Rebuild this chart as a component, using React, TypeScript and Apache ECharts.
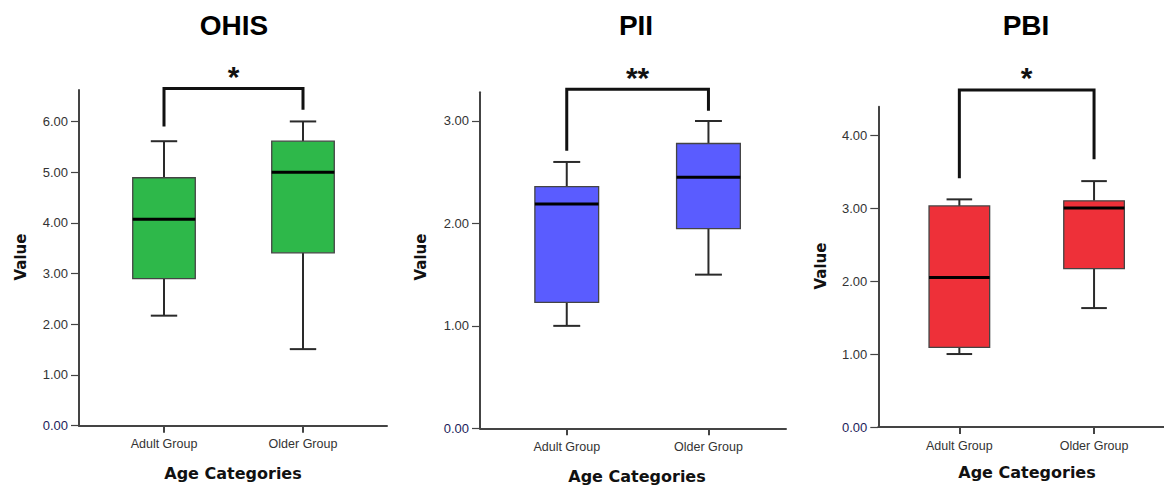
import React, { useEffect, useRef } from 'react';
import * as echarts from 'echarts';

// ---- data ----
const categories = ['Adult Group', 'Older Group'];
const panelTitles = ['OHIS', 'PII', 'PBI'];
// [min, Q1, median, Q3, max]
const ohisAdult = [2.17, 2.9, 4.07, 4.89, 5.61];
const ohisOlder = [1.51, 3.41, 5.0, 5.61, 6.0];
const piiAdult = [1.0, 1.23, 2.19, 2.36, 2.6];
const piiOlder = [1.5, 1.95, 2.45, 2.78, 3.0];
const pbiAdult = [1.0, 1.09, 2.05, 3.03, 3.12];
const pbiOlder = [1.63, 2.17, 3.0, 3.1, 3.37];
// [left leg end, right leg end, bracket top]
const ohisBracket = [5.9, 6.23, 6.65];
const piiBracket = [2.71, 3.1, 3.31];
const pbiBracket = [3.41, 3.67, 4.62];
const significance = ['*', '**', '*'];
const ohisTicks = [0, 1, 2, 3, 4, 5, 6];
const piiTicks = [0, 1, 2, 3];
const pbiTicks = [0, 1, 2, 3, 4];
const yMaxes = [6.62, 3.28, 4.39];
const xAxisName = 'Age Categories';
const yAxisName = 'Value';

const boxColors = ['#2EB84A', '#5A5CFF', '#EE3039'];

const panels = [
  {
    title: panelTitles[0], adult: ohisAdult, older: ohisOlder, bracket: ohisBracket, sig: significance[0],
    ticks: ohisTicks, yMax: yMaxes[0], color: boxColors[0],
    frame: { left: 79, top: 90, width: 308, height: 335.7 }, data: { left: 94.5, width: 278 },
    titlePos: [234, 25], valuePos: [20.5, 257], agePos: [233, 473],
  },
  {
    title: panelTitles[1], adult: piiAdult, older: piiOlder, bracket: piiBracket, sig: significance[1],
    ticks: piiTicks, yMax: yMaxes[1], color: boxColors[1],
    frame: { left: 480, top: 92.3, width: 306, height: 336 }, data: { left: 495.9, width: 283.4 },
    titlePos: [636, 25], valuePos: [420.5, 257], agePos: [637, 476],
  },
  {
    title: panelTitles[2], adult: pbiAdult, older: pbiOlder, bracket: pbiBracket, sig: significance[2],
    ticks: pbiTicks, yMax: yMaxes[2], color: boxColors[2],
    frame: { left: 878.3, top: 106.7, width: 285.7, height: 320.3 }, data: { left: 892, width: 269.4 },
    titlePos: [1026, 25], valuePos: [821, 266], agePos: [1027, 472],
  },
];

const AXIS_COLOR = '#444';
const LABEL_FONT = '"Liberation Sans", Arial, sans-serif';
const BOLD_FONT = '"DejaVu Sans", Verdana, sans-serif';

function buildOption() {
  const grid: any[] = [];
  const xAxis: any[] = [];
  const yAxis: any[] = [];
  const series: any[] = [];
  const graphic: any[] = [];

  panels.forEach((p, i) => {
    const gFrame = i * 2;
    const gData = i * 2 + 1;
    grid.push({ left: p.frame.left, top: p.frame.top, width: p.frame.width, height: p.frame.height });
    grid.push({ left: p.data.left, top: p.frame.top, width: p.data.width, height: p.frame.height });

    // frame axes
    xAxis.push({
      type: 'value', gridIndex: gFrame, min: 0, max: 1,
      axisLine: { show: true, lineStyle: { color: AXIS_COLOR, width: 2 } },
      axisTick: { show: false }, axisLabel: { show: false }, splitLine: { show: false },
    });
    yAxis.push({
      type: 'value', gridIndex: gFrame, min: 0, max: p.yMax,
      axisLine: { show: true, onZero: false, lineStyle: { color: AXIS_COLOR, width: 2 } },
      axisTick: { show: true, length: 8, customValues: p.ticks, lineStyle: { color: AXIS_COLOR, width: 1.2 } },
      axisLabel: {
        show: true, customValues: p.ticks, margin: 11,
        fontSize: 13, fontFamily: LABEL_FONT,
        color: (v: any) => (Number(v) === 0 ? '#1c1c5a' : '#333'),
        formatter: (v: number) => Number(v).toFixed(2),
      },
      splitLine: { show: false },
    });
    // data axes
    xAxis.push({
      type: 'category', gridIndex: gData, data: categories, boundaryGap: true,
      axisLine: { show: false },
      axisTick: { show: true, alignWithLabel: true, interval: 0, length: 7, lineStyle: { color: AXIS_COLOR, width: 2 } },
      axisLabel: { show: true, interval: 0, margin: 12, fontSize: 12.5, fontFamily: LABEL_FONT, color: '#333' },
      splitLine: { show: false },
    });
    yAxis.push({
      type: 'value', gridIndex: gData, min: 0, max: p.yMax, show: false,
      axisLine: { show: false }, axisTick: { show: false }, axisLabel: { show: false }, splitLine: { show: false },
    });

    const boxData = [
      [0, ...p.adult],
      [1, ...p.older],
    ];
    series.push({
      type: 'custom', xAxisIndex: gData, yAxisIndex: gData, clip: false,
      encode: { x: 0, y: [1, 2, 3, 4, 5] },
      data: boxData,
      renderItem: (params: any, api: any) => {
        const cat = api.value(0);
        const band = api.size([1, 0])[0];
        const bw = band * 0.45;
        const cw = band * 0.19;
        const pMin = api.coord([cat, api.value(1)]);
        const pQ1 = api.coord([cat, api.value(2)]);
        const pMed = api.coord([cat, api.value(3)]);
        const pQ3 = api.coord([cat, api.value(4)]);
        const pMax = api.coord([cat, api.value(5)]);
        const x = pMed[0];
        const ws = { stroke: '#2a2a2a', lineWidth: 2 };
        return {
          type: 'group',
          children: [
            { type: 'line', shape: { x1: x, y1: pMax[1], x2: x, y2: pQ3[1] }, style: ws },
            { type: 'line', shape: { x1: x, y1: pQ1[1], x2: x, y2: pMin[1] }, style: ws },
            { type: 'line', shape: { x1: x - cw / 2, y1: pMax[1], x2: x + cw / 2, y2: pMax[1] }, style: ws },
            { type: 'line', shape: { x1: x - cw / 2, y1: pMin[1], x2: x + cw / 2, y2: pMin[1] }, style: ws },
            {
              type: 'rect',
              shape: { x: x - bw / 2, y: pQ3[1], width: bw, height: pQ1[1] - pQ3[1] },
              style: { fill: p.color, stroke: '#444', lineWidth: 1.3 },
            },
            { type: 'line', shape: { x1: x - bw / 2, y1: pMed[1], x2: x + bw / 2, y2: pMed[1] }, style: { stroke: '#000', lineWidth: 3 } },
          ],
        };
      },
    });

    series.push({
      type: 'custom', xAxisIndex: gData, yAxisIndex: gData, clip: false,
      encode: { x: [0, 1], y: [2, 3, 4] },
      data: [[0, 1, ...p.bracket]],
      renderItem: (params: any, api: any) => {
        const l = api.coord([api.value(0), api.value(2)]);
        const r = api.coord([api.value(1), api.value(3)]);
        const tl = api.coord([api.value(0), api.value(4)]);
        const tr = api.coord([api.value(1), api.value(4)]);
        return {
          type: 'group',
          children: [
            {
              type: 'polyline',
              shape: { points: [l, tl, tr, r] },
              style: { stroke: '#111', lineWidth: 3, fill: 'none', lineJoin: 'miter' },
            },
            {
              type: 'text',
              x: (tl[0] + tr[0]) / 2, y: tl[1] - 12,
              style: {
                text: p.sig, fill: '#111', align: 'center', verticalAlign: 'middle',
                font: 'bold 30px "Liberation Sans", Arial, sans-serif',
              },
            },
          ],
        };
      },
    });

    graphic.push({
      type: 'text', x: p.titlePos[0], y: p.titlePos[1],
      style: { text: p.title, fill: '#000', align: 'center', verticalAlign: 'middle', font: 'bold 28px "Liberation Sans", Arial, sans-serif' },
    });
    graphic.push({
      type: 'text', x: p.valuePos[0], y: p.valuePos[1], rotation: Math.PI / 2,
      style: { text: yAxisName, fill: '#111', align: 'center', verticalAlign: 'middle', font: `bold 15px ${BOLD_FONT}` },
    });
    graphic.push({
      type: 'text', x: p.agePos[0], y: p.agePos[1],
      style: { text: xAxisName, fill: '#111', align: 'center', verticalAlign: 'middle', font: `bold 16px ${BOLD_FONT}` },
    });
  });

  return { animation: false, backgroundColor: '#fff', grid, xAxis, yAxis, series, graphic };
}

export default function App() {
  const ref = useRef<HTMLDivElement>(null);
  useEffect(() => {
    if (!ref.current) return;
    const chart = echarts.init(ref.current, undefined, { renderer: 'svg' });
    chart.setOption(buildOption() as any);
    return () => chart.dispose();
  }, []);
  return (
    <div
      ref={ref}
      style={{ position: 'fixed', left: 0, top: 0, width: 1164, height: 488, background: '#fff' }}
    />
  );
}
